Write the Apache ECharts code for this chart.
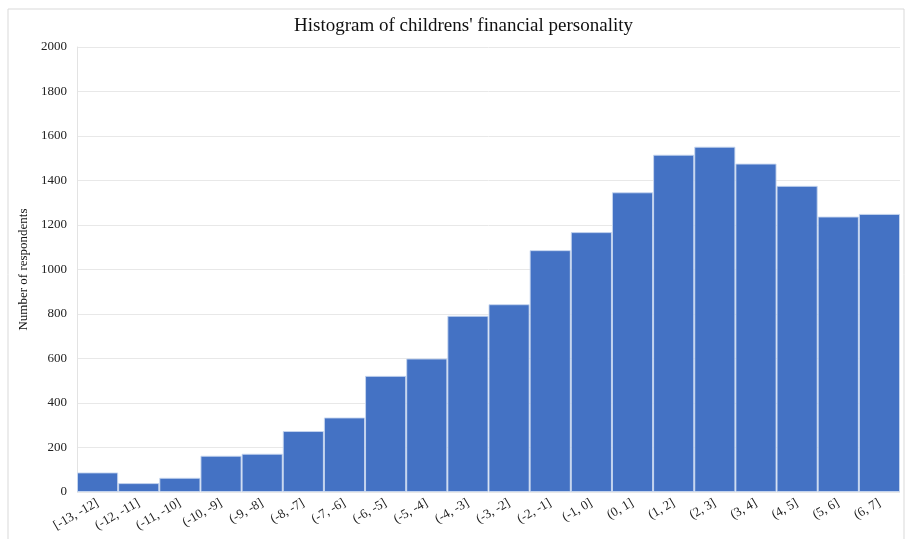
<!DOCTYPE html>
<html>
<head>
<meta charset="utf-8">
<script src="https://cdn.jsdelivr.net/npm/echarts@6/dist/echarts.min.js"></script>
<style>
  html, body { margin: 0; padding: 0; background: #fff; }
  #chart { width: 906px; height: 539px; }
</style>
</head>
<body>
<div id="chart"></div>
<script>
  // bins of the score and number of children in each
  var categories = ["[-13, -12]", "(-12, -11]", "(-11, -10]", "(-10, -9]", "(-9, -8]", "(-8, -7]",
    "(-7, -6]", "(-6, -5]", "(-5, -4]", "(-4, -3]", "(-3, -2]", "(-2, -1]", "(-1, 0]",
    "(0, 1]", "(1, 2]", "(2, 3]", "(3, 4]", "(4, 5]", "(5, 6]", "(6, 7]"];
  var counts = [88, 40, 64, 163, 172, 274, 335, 522, 600, 792, 844, 1087, 1168,
    1347, 1516, 1552, 1476, 1376, 1238, 1250];

  var chart = echarts.init(document.getElementById("chart"));
  var serif = "Liberation Serif";
  var option = {
    animation: false,
    title: {
      text: "Histogram of childrens' financial personality",
      left: 289,
      top: 12,
      textStyle: { fontFamily: serif, fontSize: 19, fontWeight: "normal", color: "#111" }
    },
    graphic: [{
      type: "rect",
      shape: { x: 8, y: 9, width: 896, height: 540 },
      style: { fill: "none", stroke: "#d9d9d9", lineWidth: 1 },
      silent: true
    }],
    grid: { left: 77, right: 6, top: 47, bottom: 47 },
    xAxis: {
      type: "category",
      data: categories,
      axisTick: { show: false },
      axisLine: { show: false },
      axisLabel: {
        rotate: 30,
        interval: 0,
        margin: 10,
        fontFamily: serif,
        fontSize: 13,
        color: "#222"
      }
    },
    yAxis: {
      type: "value",
      min: 0,
      max: 2000,
      interval: 200,
      name: "Number of respondents",
      nameLocation: "middle",
      nameGap: 46,
      nameTextStyle: { fontFamily: serif, fontSize: 13, color: "#111" },
      axisLine: { show: true, lineStyle: { color: "#e3e3e3" } },
      axisTick: { show: false },
      axisLabel: {
        fontFamily: serif, fontSize: 13, color: "#222", margin: 10,
        formatter: function (v) { return String(v); }
      },
      splitLine: { lineStyle: { color: "#e8e8e8", width: 1 } }
    },
    series: [{
      type: "bar",
      data: counts,
      barCategoryGap: "0%",
      itemStyle: {
        color: "#4472C4",
        borderColor: "rgba(200,215,240,0.9)",
        borderWidth: 1
      }
    }]
  };
  chart.setOption(option);
</script>
</body>
</html>
